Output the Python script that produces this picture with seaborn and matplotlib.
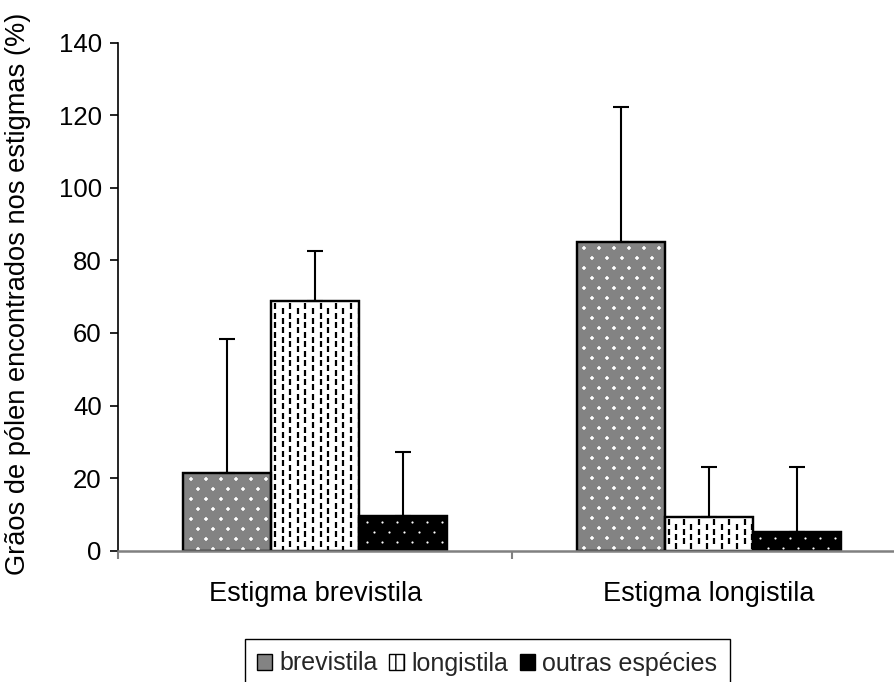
import numpy as np
import pandas as pd
import matplotlib
matplotlib.use("Agg")
import matplotlib.pyplot as plt
from matplotlib.patches import Patch, Rectangle
import seaborn as sns

# Data: pollen grains found on stigmas (%), mean and upper error
estigmas = ["Estigma brevistila", "Estigma longistila"]
tipos = ["brevistila", "longistila", "outras espécies"]
brevistila = [21.5, 85.1]
longistila = [68.9, 9.4]
outras = [9.6, 5.2]
erro_brevistila = [36.9, 37.1]
erro_longistila = [13.8, 13.7]
erro_outras = [17.7, 17.9]
yticks = [0, 20, 40, 60, 80, 100, 120, 140]

valores = [brevistila, longistila, outras]
erros = [erro_brevistila, erro_longistila, erro_outras]

df = pd.DataFrame({
    "estigma": estigmas * 3,
    "tipo": [t for t in tipos for _ in estigmas],
    "valor": brevistila + longistila + outras,
})

sns.set_theme(style="white")
plt.rcParams["font.family"] = ["Liberation Sans", "DejaVu Sans"]

W, H = 894, 682
fig = plt.figure(figsize=(W / 100, H / 100), dpi=100)
fig.patch.set_facecolor("white")
ax = fig.add_axes([118.3 / W, 131.3 / H, 787.4 / W, 508 / H])
ax.set_facecolor("white")

faces = {"brevistila": "#838383", "longistila": "white", "outras espécies": "black"}
sns.barplot(data=df, x="estigma", y="valor", hue="tipo", order=estigmas,
            hue_order=tipos, palette=faces, width=0.67, errorbar=None,
            edgecolor="black", linewidth=1.6, saturation=1, legend=False, ax=ax)

ax.set_xlim(-0.5, 1.5)
ax.set_ylim(0, 140)
bar_groups = list(ax.containers)

# pixel-to-data scale factors for the fill textures
fig.canvas.draw()
t = ax.transData
px_x = 1.0 / (t.transform((1, 0))[0] - t.transform((0, 0))[0])
px_y = 1.0 / (t.transform((0, 1))[1] - t.transform((0, 0))[1])


def texture(patch, sx, sy, marker, color, size, lw, stagger="row"):
    x0, y0 = patch.get_x(), patch.get_y()
    w, h = patch.get_width(), patch.get_height()
    xs, ys = [], []
    cols = np.arange(x0 + sx * 0.5, x0 + w, sx)
    rows = np.arange(y0 + h - sy * 0.6, y0, -sy)
    for i, yy in enumerate(rows):
        for j, xx in enumerate(cols):
            if stagger == "row":
                off = (sx / 2) if i % 2 else 0
                xs.append(xx + off); ys.append(yy)
            else:
                off = (sy / 2) if j % 2 else 0
                xs.append(xx); ys.append(yy - off)
    sc = ax.scatter(xs, ys, marker=marker, s=size, c=color, linewidths=lw,
                    zorder=patch.get_zorder() + 0.1)
    sc.set_clip_path(patch)


for k, cont in enumerate(bar_groups):
    for p in cont.patches:
        if k == 0:
            texture(p, 15 * px_x, 10 * px_y, "+", "white", 12, 1.1)
        elif k == 1:
            texture(p, 7.6 * px_x, 9.5 * px_y, "|", "black", 13, 1.6, stagger="col")
        else:
            texture(p, 15 * px_x, 10 * px_y, "o", "white", 2.5, 0)
        # crisp outline on top of the texture
        ax.add_patch(Rectangle((p.get_x(), p.get_y()), p.get_width(), p.get_height(),
                               fill=False, edgecolor="black", linewidth=1.6,
                               zorder=p.get_zorder() + 0.2))

# upper error bars
for k, cont in enumerate(bar_groups):
    xs = [p.get_x() + p.get_width() / 2 for p in cont.patches]
    ys = [p.get_height() for p in cont.patches]
    up = erros[k]
    ax.errorbar(xs, ys, yerr=[np.zeros(len(up)), up], fmt="none", ecolor="black",
                elinewidth=1.5, capsize=5.5, capthick=1.5, zorder=5)

# axes styling
for s in ["top", "right"]:
    ax.spines[s].set_visible(False)
ax.spines["left"].set_color("black")
ax.spines["left"].set_linewidth(1.2)
ax.spines["bottom"].set_color("#808080")
ax.spines["bottom"].set_linewidth(1.8)

ax.set_yticks(yticks)
ax.set_yticklabels([str(v) for v in yticks], fontsize=18.5, color="black")
ax.tick_params(axis="y", which="major", direction="out", length=6, width=1.2,
               color="black", pad=6, left=True)

ax.set_xticks([-0.5, 0.5, 1.5])
ax.set_xticklabels(["", "", ""])
ax.tick_params(axis="x", which="major", direction="out", length=6, width=1.5,
               color="#808080", bottom=True)
ax.set_xticks([0, 1], minor=True)
ax.set_xticklabels(estigmas, minor=True, fontsize=19.5, color="black")
ax.tick_params(axis="x", which="minor", length=0, pad=22)

ax.set_xlabel("")
ax.set_ylabel("Grãos de pólen encontrados nos estigmas (%)", fontsize=19.6, color="black")
ax.yaxis.set_label_coords(-0.111, 0.505)
ax.grid(False)

# legend
handles = [
    Patch(facecolor="#838383", edgecolor="black", linewidth=1.0, label=tipos[0]),
    Patch(facecolor="white", edgecolor="black", linewidth=1.0, hatch="||", label=tipos[1]),
    Patch(facecolor="black", edgecolor="black", linewidth=1.0, label=tipos[2]),
]
leg = fig.legend(handles=handles, loc="upper left",
                 bbox_to_anchor=(244.5 / W, 1 - 639 / H), ncol=3, fontsize=18,
                 frameon=True, fancybox=False, edgecolor="black", framealpha=1,
                 handlelength=0.6, handleheight=0.6, handletextpad=0.3,
                 columnspacing=0.45, borderpad=0.5, borderaxespad=0)
leg.get_frame().set_linewidth(1.0)

fig.savefig("out.png", dpi=100, facecolor="white")
